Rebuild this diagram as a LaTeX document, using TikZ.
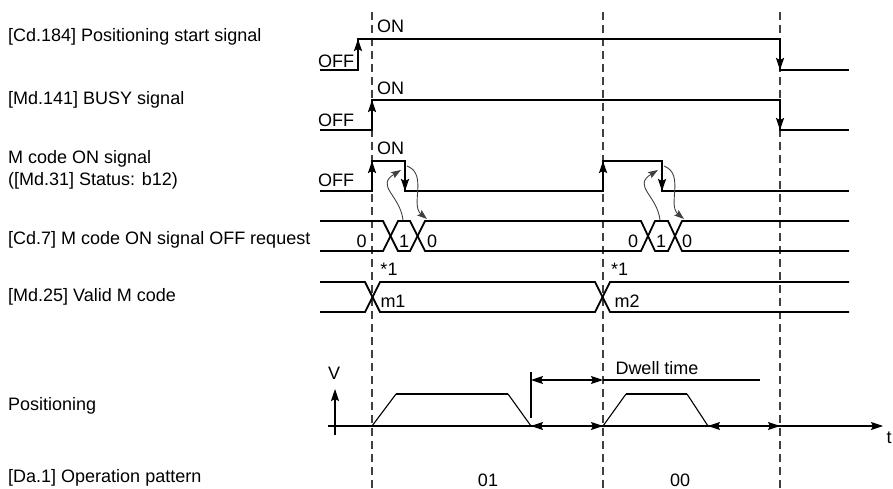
\documentclass[tikz,border=0pt]{standalone}
\usepackage{fontspec}
\setmainfont{Liberation Sans}
\usetikzlibrary{arrows.meta}
\begin{document}
\begin{tikzpicture}[x=1pt,y=-1pt,
  sig/.style={line width=2pt, line join=miter},
  bus/.style={line width=1.8pt, line join=miter},
  thinl/.style={line width=1.1pt},
  guide/.style={line width=1.2pt, dash pattern=on 8pt off 5pt, black!75},
  lbl/.style={font=\fontsize{18}{22}\selectfont, anchor=west, inner sep=0pt, align=left},
  txt/.style={font=\fontsize{18}{20}\selectfont, inner sep=0pt},
  tip/.style={-{Stealth[length=12pt,width=8pt,inset=2pt]}},
  tips/.style={{Stealth[length=12pt,width=8pt,inset=2pt]}-{Stealth[length=12pt,width=8pt,inset=2pt]}},
  curv/.style={line width=0.9pt, black!75, -{Stealth[length=10pt,width=7pt,inset=2pt]}}
]
\useasboundingbox (0,0) rectangle (893,489);

% left labels
\node[lbl] (lab1) at (8,37) {[Cd.184] Positioning start signal};
\node[lbl] (lab2) at (8,100) {[Md.141] BUSY signal};
\node[lbl] (lab3) at (8,170) {M code ON signal\\([Md.31] Status: b12)};
\node[lbl] (lab4) at (8,240) {[Cd.7] M code ON signal OFF request};
\node[lbl] (lab5) at (8,297) {[Md.25] Valid M code};
\node[lbl] (lab6) at (8,406) {Positioning};
\node[lbl] (lab7) at (8,478) {[Da.1] Operation pattern};

% guides
\coordinate (g1t) at (372,12); \coordinate (g1b) at (372,489);
\coordinate (g2t) at (603,12); \coordinate (g2b) at (603,489);
\coordinate (g3t) at (780,12); \coordinate (g3b) at (780,489);
\draw[guide] (g1t) -- (g1b);
\draw[guide] (g2t) -- (g2b);
\draw[guide] (g3t) -- (g3b);

% row 1: positioning start
\draw[sig] (320,70) -- (358,70) -- (358,39) -- (780,39) -- (780,70) -- (849,70);
\draw[sig,tip] (358,70) -- (358,39);
\draw[sig,tip] (780,39) -- (780,70);
\node[txt,anchor=west] (off1) at (318,61) {OFF};
\node[txt,anchor=west] (on1) at (377,26) {ON};

% row 2: BUSY
\draw[sig] (320,130) -- (372,130) -- (372,100) -- (780,100) -- (780,130) -- (849,130);
\draw[sig,tip] (372,130) -- (372,100);
\draw[sig,tip] (780,100) -- (780,130);
\node[txt,anchor=west] (off2) at (318,120) {OFF};
\node[txt,anchor=west] (on2) at (377,88) {ON};

% row 3: M code ON
\draw[sig] (320,191) -- (372,191) -- (372,161) -- (405,161) -- (405,191) -- (603,191) -- (603,161) -- (662,161) -- (662,191) -- (849,191);
\draw[sig,tip] (372,191) -- (372,161);
\draw[sig,tip] (405,161) -- (405,191);
\draw[sig,tip] (603,191) -- (603,161);
\draw[sig,tip] (662,161) -- (662,191);
\node[txt,anchor=west] (off3) at (318,180) {OFF};
\node[txt,anchor=west] (on3) at (377,148) {ON};

% row 4: Cd.7 bus
\draw[bus] (320,221) -- (383,221) -- (398,251) -- (410,251) -- (425,221) -- (641,221) -- (655,251) -- (668,251) -- (682,221) -- (849,221);
\draw[bus] (320,251) -- (383,251) -- (398,221) -- (410,221) -- (425,251) -- (641,251) -- (655,221) -- (668,221) -- (682,251) -- (849,251);
\node[txt] (z1) at (361.5,241.5) {0};
\node[txt] (o1) at (404,241.5) {1};
\node[txt] (z2) at (432,241.5) {0};
\node[txt] (z3) at (633,241.5) {0};
\node[txt] (o2) at (661,241.5) {1};
\node[txt] (z4) at (687,241.5) {0};

% curved cause arrows
\draw[curv] (403,220) .. controls (400,195) and (375,186) .. (401,170);
\draw[curv] (407,166) .. controls (428,174) and (410,205) .. (427,219);
\draw[curv] (660,220) .. controls (657,195) and (632,186) .. (658,170);
\draw[curv] (664,166) .. controls (685,174) and (667,205) .. (684,219);

% row 5: Md.25
\draw[bus] (320,282) -- (365,282) -- (380,312) -- (595,312) -- (610,282) -- (849,282);
\draw[bus] (320,312) -- (365,312) -- (380,282) -- (595,282) -- (610,312) -- (849,312);
\node[txt] (s1) at (389,269) {*1};
\node[txt] (s2) at (619.5,269) {*1};
\node[txt] (m1) at (393,301) {m1};
\node[txt] (m2) at (627,301) {m2};

% row 6: positioning
\coordinate (ax0) at (328,426); \coordinate (ax1) at (883,426);
\draw[thinl,tip] (ax0) -- (ax1);
\coordinate (v0) at (335,435); \coordinate (v1) at (335,389);
\draw[thinl,tip] (v0) -- (v1);
\node[txt] (V) at (334,373.5) {V};
\node[txt] (t) at (889,438) {t};
\draw[thinl] (372,426) -- (396,394);
\draw[line width=2.4pt] (396,394) -- (508,394);
\draw[thinl] (508,394) -- (531,426);
\draw[thinl] (603,426) -- (626,394);
\draw[line width=2.4pt] (626,394) -- (687,394);
\draw[thinl] (687,394) -- (708,426);
\coordinate (d0) at (531,380); \coordinate (d1) at (603,380); \coordinate (d2) at (760,380);
\draw[thinl] (531,372) -- (531,418);
\draw[thinl,tips] (d0) -- (d1);
\draw[thinl] (d1) -- (d2);
\node[txt] (dwell) at (657,368) {Dwell time};
\draw[thinl,tips] (531,426) -- (603,426);
\draw[thinl,tips] (708,426) -- (780,426);

% row 7
\node[txt] (p01) at (488,480) {01};
\node[txt] (p00) at (680,480) {00};
\end{tikzpicture}
\end{document}
